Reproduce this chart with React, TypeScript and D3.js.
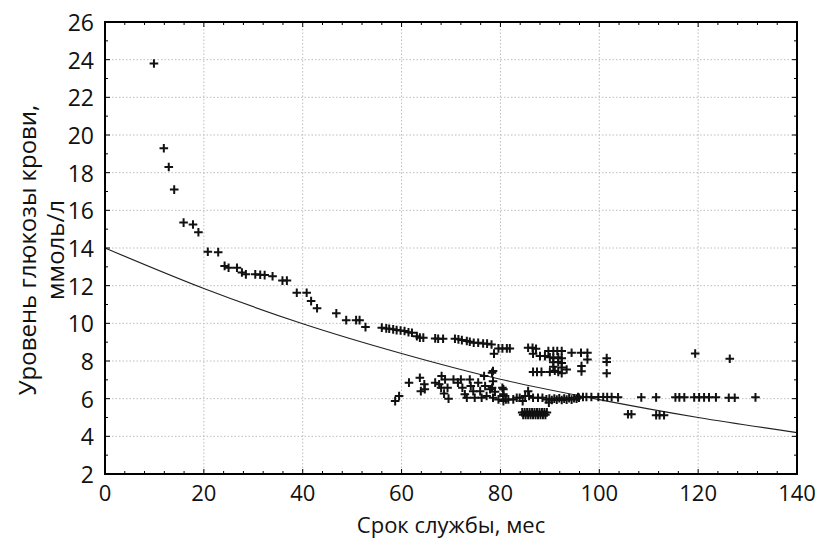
import React from "react";
import * as d3 from "d3";

const W = 816;
const H = 540;
const M = { left: 105, right: 19, top: 22, bottom: 66 };

const xTicks = [0, 20, 40, 60, 80, 100, 120, 140];
const yTicks = [2, 4, 6, 8, 10, 12, 14, 16, 18, 20, 22, 24, 26];
const xTitle = "Срок службы, мес";
const yTitle1 = "Уровень глюкозы крови,";
const yTitle2 = "ммоль/л";

// upper (decreasing) branch
const upperBranch: [number, number][] = [
  [9.9, 23.8], [11.9, 19.3], [12.9, 18.3], [14.0, 17.1], [15.9, 15.35], [17.8, 15.25], [18.9, 14.84],
  [20.8, 13.8], [22.9, 13.78], [24.2, 13.05], [25.0, 12.95], [26.7, 12.95], [27.7, 12.7], [28.5, 12.6],
  [30.4, 12.6], [31.4, 12.58], [32.3, 12.56], [33.9, 12.5], [35.9, 12.27], [36.8, 12.27],
  [38.8, 11.62], [40.8, 11.62], [41.7, 11.18], [42.9, 10.8], [46.8, 10.53], [48.8, 10.17],
  [50.8, 10.17], [51.5, 10.17], [52.7, 9.8],
  [56.0, 9.77], [56.9, 9.73], [57.5, 9.71], [58.3, 9.68], [59.0, 9.64], [59.8, 9.62], [60.6, 9.59],
  [61.4, 9.53], [62.1, 9.5], [63.1, 9.32], [63.7, 9.24], [64.4, 9.24], [66.8, 9.2], [67.4, 9.18],
  [68.4, 9.18], [70.8, 9.18], [71.5, 9.15], [72.2, 9.11], [73.2, 9.06], [73.8, 9.02], [74.6, 8.97],
  [75.5, 8.97], [76.5, 8.93], [77.3, 8.92], [78.2, 8.88], [78.7, 8.39], [79.6, 8.67], [80.4, 8.67],
  [81.3, 8.67], [81.9, 8.67],
];

// cluster at 85–102 months, 7.3–8.7 mmol/l
const upperCluster: [number, number][] = [
  [85.6, 8.7], [86.5, 8.7], [87.2, 8.65], [86.6, 8.39], [88.0, 8.26], [89.0, 8.26], [89.7, 8.53],
  [90.7, 8.53], [91.5, 8.53], [92.4, 8.53], [90.0, 8.2], [90.7, 8.15], [91.7, 8.2], [92.4, 8.15],
  [90.7, 7.93], [91.7, 7.95], [92.4, 7.9], [90.7, 7.7], [92.4, 7.65], [86.6, 7.42], [87.4, 7.42],
  [88.3, 7.42], [90.0, 7.42], [91.0, 7.48], [91.7, 7.42], [92.4, 7.35], [93.4, 7.55], [94.4, 8.44],
  [96.3, 8.44], [97.6, 8.44], [97.6, 8.08], [96.4, 7.73], [96.4, 7.45], [101.5, 8.15], [101.5, 7.95],
  [101.5, 7.35],
];

// lower cluster 58–96 months
const lowerCluster: [number, number][] = [
  [58.7, 5.87], [59.5, 6.14], [61.5, 6.85], [63.7, 7.11], [63.9, 6.4], [64.6, 6.76], [64.7, 6.5],
  [66.8, 6.85], [67.6, 6.76], [68.1, 7.2], [68.8, 7.02], [68.0, 6.58], [68.6, 6.27], [69.5, 6.0],
  [69.3, 6.58], [70.5, 7.02], [71.4, 6.85], [72.0, 7.02], [72.3, 6.58], [72.8, 6.23], [73.2, 6.05],
  [73.8, 7.02], [74.0, 6.67], [74.5, 6.4], [74.8, 6.05], [75.5, 6.85], [75.9, 6.4], [76.2, 6.05],
  [76.7, 7.2], [76.9, 6.67], [77.2, 6.14], [77.9, 6.5], [78.3, 7.38], [78.5, 7.47], [78.5, 6.93],
  [78.3, 6.58], [78.5, 6.05], [78.9, 6.37], [79.6, 5.96], [80.4, 6.58], [80.6, 6.14], [81.1, 5.96],
  [80.6, 6.5], [80.6, 6.23], [80.6, 5.87], [81.6, 5.96], [82.6, 5.96], [83.3, 6.05], [83.9, 6.05],
  [84.5, 5.87], [85.0, 6.14], [85.6, 6.4], [85.8, 6.14], [86.6, 6.05], [87.6, 6.05], [88.5, 6.05],
  [89.3, 5.96], [89.8, 5.79],
  [89.9, 6.0], [90.4, 5.93], [90.9, 6.0], [91.4, 5.95], [91.9, 6.02], [92.4, 5.93], [92.9, 6.0],
  [93.4, 5.95], [93.9, 6.02], [94.4, 5.95], [94.9, 6.02], [95.4, 6.0], [95.9, 6.05],
];

// tight strip around 5.2 mmol/l
const lowStrip: [number, number][] = [
  [84.4, 5.27], [84.9, 5.27], [85.4, 5.27], [85.9, 5.27], [86.4, 5.27], [86.9, 5.27], [87.4, 5.27],
  [87.9, 5.27], [88.4, 5.27], [88.9, 5.27], [89.4, 5.27],
  [84.6, 5.14], [85.1, 5.14], [85.6, 5.14], [86.1, 5.14], [86.6, 5.14], [87.1, 5.14], [87.6, 5.14],
  [88.1, 5.14], [88.6, 5.14], [89.1, 5.14],
];

// tail beyond 95 months
const tail: [number, number][] = [
  [95.7, 6.09], [96.7, 6.09], [97.4, 6.09], [98.4, 6.09], [99.8, 6.09], [100.8, 6.09], [101.6, 6.09],
  [102.5, 6.09], [103.8, 6.07], [108.5, 6.07], [111.5, 6.07], [115.4, 6.07], [116.2, 6.07],
  [117.2, 6.07], [119.2, 6.07], [120.2, 6.07], [121.2, 6.07], [122.2, 6.07], [123.6, 6.07],
  [126.2, 6.05], [127.4, 6.05], [131.6, 6.07], [105.8, 5.17], [106.5, 5.17], [111.5, 5.12],
  [112.2, 5.12], [113.1, 5.12], [119.4, 8.4], [126.4, 8.12],
];

// fitted curve
const fitX = [0, 20, 40, 60, 80, 100, 120, 140];
const fitY = [14.0, 11.85, 9.98, 8.4, 7.03, 5.95, 5.0, 4.2];

export default function App() {
  const x = d3.scaleLinear().domain([0, 140]).range([M.left, W - M.right]);
  const y = d3.scaleLinear().domain([2, 26]).range([H - M.bottom, M.top]);
  const points = [...upperBranch, ...upperCluster, ...lowerCluster, ...lowStrip, ...tail];
  const line = d3
    .line<number>()
    .x((_, i) => x(fitX[i]))
    .y((d) => y(d))
    .curve(d3.curveMonotoneX);
  const font = "'Open Sans', 'DejaVu Sans', sans-serif";
  const x0 = x(0), x1 = x(140), y0 = y(2), y1 = y(26);
  const xMinor = d3.range(0, 141, 4);
  const yMinor = d3.range(2, 27, 1);
  return (
    <svg width={W} height={H} style={{ position: "absolute", left: 0, top: 0, background: "#fff" }}>
      <rect x={0} y={0} width={W} height={H} fill="#fff" />
      {xTicks.slice(1, -1).map((t) => (
        <line key={"gx" + t} x1={x(t)} x2={x(t)} y1={y1} y2={y0} stroke="#bdbdbd" strokeWidth={1} strokeDasharray="1.5,2" />
      ))}
      {yTicks.slice(1, -1).map((t) => (
        <line key={"gy" + t} x1={x0} x2={x1} y1={y(t)} y2={y(t)} stroke="#bdbdbd" strokeWidth={1} strokeDasharray="1.5,2" />
      ))}
      <path d={line(fitY) || ""} fill="none" stroke="#222" strokeWidth={1.2} />
      {points.map((p, i) => (
        <path
          key={"p" + i}
          transform={`translate(${x(p[0])},${y(p[1])})`}
          d="M-4.3,0H4.3M0,-4.3V4.3"
          stroke="#111"
          strokeWidth={2}
          fill="none"
        />
      ))}
      {xMinor.map((t) => (
        <g key={"mx" + t}>
          <line x1={x(t)} x2={x(t)} y1={y0} y2={y0 - (t % 20 === 0 ? 5 : 3)} stroke="#000" strokeWidth={1} />
          <line x1={x(t)} x2={x(t)} y1={y1} y2={y1 + (t % 20 === 0 ? 5 : 3)} stroke="#000" strokeWidth={1} />
        </g>
      ))}
      {yMinor.map((t) => (
        <g key={"my" + t}>
          <line x1={x0} x2={x0 + (t % 2 === 0 ? 5 : 3)} y1={y(t)} y2={y(t)} stroke="#000" strokeWidth={1} />
          <line x1={x1} x2={x1 - (t % 2 === 0 ? 5 : 3)} y1={y(t)} y2={y(t)} stroke="#000" strokeWidth={1} />
        </g>
      ))}
      <rect x={x0} y={y1} width={x1 - x0} height={y0 - y1} fill="none" stroke="#000" strokeWidth={2} />
      {yTicks.map((t) => (
        <text key={"ty" + t} x={94} y={y(t)} textAnchor="end" dominantBaseline="central" fontFamily={font} fontSize={23} fill="#111">
          {t}
        </text>
      ))}
      {xTicks.map((t) => (
        <text key={"tx" + t} x={x(t)} y={492} textAnchor="middle" dominantBaseline="central" fontFamily={font} fontSize={22} fill="#111">
          {t}
        </text>
      ))}
      <text x={(x0 + x1) / 2} y={524} textAnchor="middle" dominantBaseline="central" fontFamily={font} fontSize={22} fill="#111">
        {xTitle}
      </text>
      <text transform="translate(26,250) rotate(-90)" textAnchor="middle" dominantBaseline="central" fontFamily={font} fontSize={24} fill="#111">
        {yTitle1}
      </text>
      <text transform="translate(54,250) rotate(-90)" textAnchor="middle" dominantBaseline="central" fontFamily={font} fontSize={24} fill="#111">
        {yTitle2}
      </text>
    </svg>
  );
}
